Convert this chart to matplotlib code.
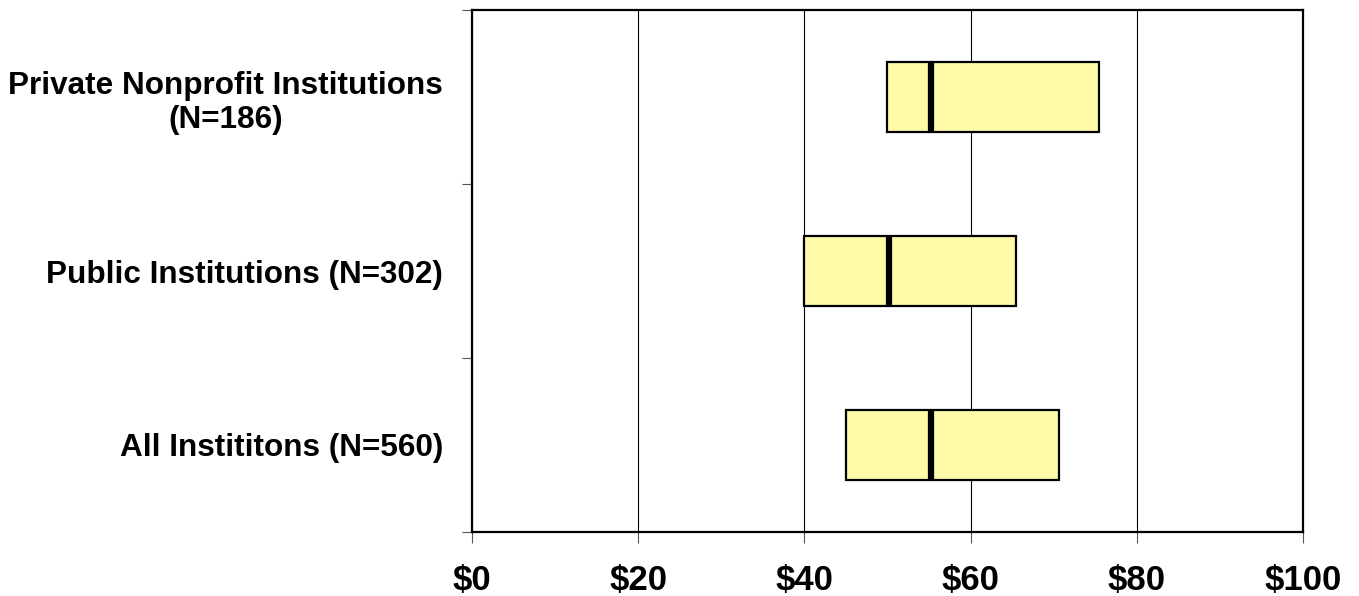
import matplotlib
matplotlib.use("Agg")
import matplotlib.pyplot as plt
from matplotlib.ticker import FixedLocator, NullFormatter

plt.rcParams['font.family'] = ['Liberation Sans', 'DejaVu Sans']

categories = ["Private Nonprofit Institutions\n(N=186)",
              "Public Institutions (N=302)",
              "All Instititons (N=560)"]
q1 = [50.0, 40.0, 45.0]
median = [55.2, 50.2, 55.2]
q3 = [75.5, 65.5, 70.6]
xticks = [0, 20, 40, 60, 80, 100]
xticklabels = ["$0", "$20", "$40", "$60", "$80", "$100"]

fig = plt.figure(figsize=(13.59, 5.96), dpi=100)
ax = fig.add_axes([0.3475, 0.1074, 0.9586 - 0.3475, 0.9832 - 0.1074])

ypos = list(range(len(categories)))
box_h = 0.40
fill = '#FFFBA8'
for y, a, m, b in zip(ypos, q1, median, q3):
    ax.barh(y, b - a, left=a, height=box_h, color=fill, edgecolor='black',
            linewidth=1.6, zorder=3)
    ax.plot([m, m], [y - box_h / 2, y + box_h / 2], color='black',
            linewidth=4.5, solid_capstyle='butt', zorder=4)

ax.set_xlim(0, 100)
ax.set_ylim(len(categories) - 0.5, -0.5)

ax.set_xticks(xticks)
ax.set_xticklabels(xticklabels, fontsize=25, fontweight='bold')
ax.xaxis.grid(True, color='black', linewidth=0.8, zorder=0)
ax.set_axisbelow(True)
ax.tick_params(axis='x', direction='out', length=8, width=0.8, color='#555555', pad=15)

# major ticks at category boundaries, labels at centers
ax.yaxis.set_major_locator(FixedLocator([-0.5, 0.5, 1.5, 2.5]))
ax.yaxis.set_major_formatter(NullFormatter())
ax.set_yticks(ypos, minor=True)
ax.set_yticklabels(categories, minor=True, fontsize=22.7, fontweight='bold',
                   multialignment='center', linespacing=1.2)
ax.tick_params(axis='y', which='major', direction='out', length=7, width=0.8, color='#555555')
ax.tick_params(axis='y', which='minor', length=0, pad=21)

for s in ax.spines.values():
    s.set_linewidth(1.6)
    s.set_color('black')

fig.savefig("out.png", dpi=100, facecolor='white')
